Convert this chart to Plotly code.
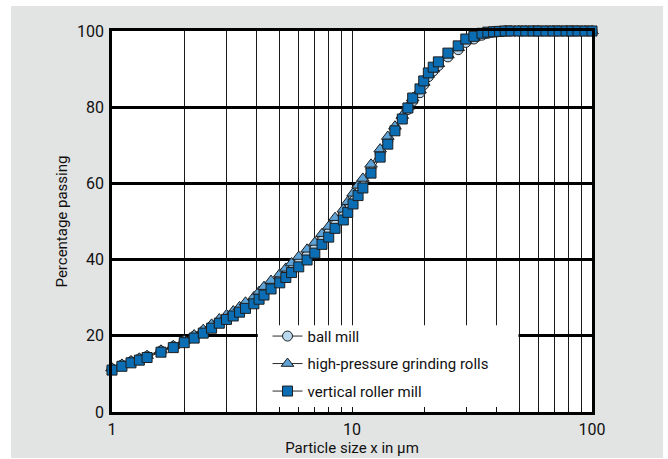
import plotly.graph_objects as go

# Particle size classes (µm) and cumulative percentage passing for each mill
size_um = [1.0, 1.1, 1.2, 1.3, 1.4, 1.6, 1.8, 2.0, 2.2, 2.4, 2.6, 2.8, 3.0, 3.2, 3.4,
           3.6, 3.9, 4.1, 4.3, 4.6, 5.0, 5.3, 5.6, 6.0, 6.5, 7.0, 7.5, 8.0, 8.5, 9.2,
           9.6, 10.1, 10.6, 11.1, 12.0, 13.1, 14.1, 15.1, 16.2, 17.1, 17.9, 19.2, 19.9,
           20.8, 21.8, 22.9, 25.1, 27.7, 29.8, 32.2, 34.8, 36.8, 38.9, 41.2, 43.5, 46.0,
           49.6, 53.0, 56.8, 60.0, 64.3, 68.8, 73.0, 78.0, 82.5, 87.4, 93.5, 100.0]

ball_mill = [11.3, 12.3, 13.2, 13.9, 14.6, 16.0, 17.2, 18.6, 19.9, 21.2, 22.5, 23.8, 24.8,
             25.7, 26.8, 27.9, 29.2, 30.5, 31.7, 33.3, 35.0, 36.5, 37.9, 39.5, 41.4, 43.2,
             45.5, 47.4, 49.7, 51.9, 53.9, 56.1, 58.3, 60.2, 64.0, 67.9, 71.1, 74.2, 77.0,
             79.4, 81.6, 83.8, 85.9, 88.0, 89.5, 90.9, 93.2, 95.1, 97.0, 97.9, 98.9, 99.4,
             99.7, 99.9, 100, 100, 100, 100, 100, 100, 100, 100, 100, 100, 100, 100, 100, 100]

hpgr = [11.5, 12.5, 13.4, 14.1, 14.8, 16.2, 17.4, 18.8, 20.2, 21.6, 23.0, 24.4, 25.5,
        26.5, 27.6, 28.8, 30.2, 31.6, 32.9, 34.5, 36.2, 37.7, 39.1, 40.8, 42.7, 44.5,
        46.8, 48.7, 51.0, 53.2, 55.2, 57.4, 59.5, 61.3, 65.0, 69.0, 72.3, 75.0, 77.8,
        80.2, 82.4, 84.5, 86.5, 88.6, 90.0, 91.4, 93.7, 95.6, 97.4, 98.2, 99.1, 99.6,
        99.8, 99.9, 100, 100, 100, 100, 100, 100, 100, 100, 100, 100, 100, 100, 100, 100]

vertical_roller_mill = [11.0, 12.0, 12.9, 13.6, 14.3, 15.7, 16.9, 18.2, 19.4, 20.7, 22.0,
                        23.3, 24.3, 25.2, 26.2, 27.2, 28.4, 29.6, 30.7, 32.3, 33.9, 35.3,
                        36.6, 38.1, 39.9, 41.7, 44.0, 45.9, 48.2, 50.4, 52.4, 54.6, 56.8,
                        58.8, 62.7, 66.9, 70.3, 73.8, 76.9, 79.8, 82.4, 84.8, 86.9, 89.0,
                        90.5, 91.9, 94.2, 96.1, 97.9, 98.6, 99.4, 99.7, 99.8, 99.9, 100,
                        100, 100, 100, 100, 100, 100, 100, 100, 100, 100, 100, 100, 100]

series_names = ["ball mill", "high-pressure grinding rolls", "vertical roller mill"]

x_tick_vals = [1, 2, 3, 4, 5, 6, 7, 8, 9, 10, 20, 30, 40, 50, 60, 70, 80, 90, 100]
x_tick_text = ["1", "", "", "", "", "", "", "", "", "10", "", "", "", "", "", "", "", "", "100"]
y_tick_vals = [0, 20, 40, 60, 80, 100]

x_title = "Particle size x in µm"
y_title = "Percentage passing"

FONT = "Roboto, Liberation Sans, sans-serif"
INK = "#111111"
PANEL_GREY = "#e2e3e3"
EDGE = "#1e1e1e"

styles = [
    dict(symbol="circle", size=10, color="#b9d8ee"),
    dict(symbol="triangle-up", size=11, color="#5fa3d6"),
    dict(symbol="square", size=10, color="#0b6db3"),
]

fig = go.Figure()
for name, values, st in zip(series_names, [ball_mill, hpgr, vertical_roller_mill], styles):
    fig.add_trace(go.Scatter(
        x=size_um, y=values, name=name, mode="lines+markers",
        legendgroup=name,
        line=dict(color="#2a2a2a", width=1),
        marker=dict(symbol=st["symbol"], size=st["size"], color=st["color"],
                    line=dict(color=EDGE, width=1)),
        cliponaxis=False,
    ))

# grey panel behind the chart, white plotting area on top of it
fig.add_shape(type="rect", xref="paper", yref="paper", x0=-0.2104, x1=1.148,
              y0=-0.1207, y1=1.0656, line_width=0, fillcolor=PANEL_GREY, layer="below")
fig.add_shape(type="rect", xref="paper", yref="paper", x0=0, x1=1, y0=0, y1=1,
              line_width=0, fillcolor="white", layer="below")
# white box under the legend hides the grid there (log axis: data units)
fig.add_shape(type="rect", xref="x", yref="y", x0=4.05, x1=49.4,
              y0=0.4, y1=22.8, line_width=0, fillcolor="white", layer="between")

fig.update_layout(
    width=668, height=459,
    margin=dict(l=112, r=76, t=31, b=47),
    paper_bgcolor="white",
    plot_bgcolor="rgba(0,0,0,0)",
    font=dict(family=FONT, size=15, color=INK),
    showlegend=True,
    legend=dict(x=0.324, y=0.242, xanchor="left", yanchor="top",
                bgcolor="rgba(0,0,0,0)", borderwidth=0,
                font=dict(family=FONT, size=15, color=INK),
                tracegroupgap=5, itemwidth=30),
)

fig.update_xaxes(
    type="log", range=[0, 2], automargin=False,
    tickmode="array", tickvals=x_tick_vals, ticktext=x_tick_text,
    ticks="inside", ticklen=5, tickwidth=1, tickcolor=INK,
    ticklabelstandoff=1,
    showgrid=True, gridcolor="#1a1a1a", gridwidth=1.3,
    showline=True, linecolor="#000000", linewidth=2.5, mirror=True,
    zeroline=False,
    tickfont=dict(family=FONT, size=16, color=INK),
    title=dict(text=x_title, font=dict(family=FONT, size=15, color=INK), standoff=5),
)
fig.update_yaxes(
    range=[0, 100], automargin=False,
    tickmode="array", tickvals=y_tick_vals,
    ticks="", ticklabelstandoff=2,
    showgrid=True, gridcolor="#000000", gridwidth=2.5,
    showline=True, linecolor="#000000", linewidth=2.5, mirror=True,
    zeroline=False,
    tickfont=dict(family=FONT, size=16, color=INK),
    title=dict(text=y_title, font=dict(family=FONT, size=15, color=INK), standoff=6),
)

fig.write_html("out.html")
